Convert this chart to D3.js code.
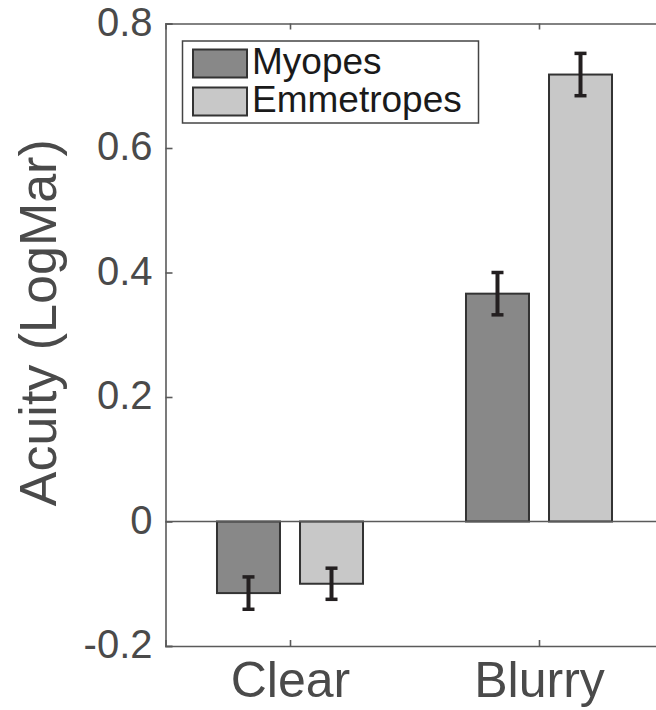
<!DOCTYPE html>
<html>
<head>
<meta charset="utf-8">
<title>Acuity bars</title>
<script src="https://d3js.org/d3.v7.min.js"></script>
<style>
body { margin: 0; background: #fff; }
svg { display: block; font-family: "Liberation Sans", Arial, Helvetica, sans-serif; }
.axis path, .axis line { stroke: #5a5a5a; stroke-width: 1.6; }
.axis text { fill: #4a4a4a; }
</style>
</head>
<body>
<script>
// data
const categories = ["Clear", "Blurry"];
const groups = ["Myopes", "Emmetropes"];
const myopes = [-0.115, 0.366];
const emmetropes = [-0.100, 0.718];
const myopesErr = [0.026, 0.034];
const emmetropesErr = [0.025, 0.034];
const yTicks = [-0.2, 0, 0.2, 0.4, 0.6, 0.8];
const colors = ["#888888", "#c8c8c8"];

const w = 656, h = 710;
const padLeft = 165.5, padTop = 23.5, padBottom = 646;

const svg = d3.select("body").append("svg")
  .attr("width", w)
  .attr("height", h);

// category index 1,2 like matlab, right edge is off the picture
const x = d3.scaleLinear().domain([0.5, 2.6]).range([padLeft, padLeft + 2.1 * 249]);
const y = d3.scaleLinear().domain([-0.2, 0.8]).range([padBottom, padTop]);

const offsets = [-0.1667, 0.1667];
const barW = 0.253;

const rows = [];
categories.forEach((c, i) => {
  rows.push({cat: i + 1, g: 0, v: myopes[i], e: myopesErr[i]});
  rows.push({cat: i + 1, g: 1, v: emmetropes[i], e: emmetropesErr[i]});
});

// bars
svg.append("g").selectAll("rect")
  .data(rows)
  .join("rect")
  .attr("x", d => x(d.cat + offsets[d.g] - barW / 2))
  .attr("width", d => x(barW) - x(0))
  .attr("y", d => y(Math.max(0, d.v)))
  .attr("height", d => Math.abs(y(d.v) - y(0)))
  .attr("fill", d => colors[d.g])
  .attr("stroke", "#333")
  .attr("stroke-width", 2);

// baseline at zero
svg.append("line")
  .attr("x1", x(0.5)).attr("x2", x(2.6))
  .attr("y1", y(0)).attr("y2", y(0))
  .attr("stroke", "#5a5a5a").attr("stroke-width", 1.6);

// error bars
const eb = svg.append("g").attr("stroke", "#231f20");
eb.selectAll("line.v")
  .data(rows).join("line").attr("class", "v")
  .attr("x1", d => x(d.cat + offsets[d.g])).attr("x2", d => x(d.cat + offsets[d.g]))
  .attr("y1", d => y(d.v - d.e)).attr("y2", d => y(d.v + d.e))
  .attr("stroke-width", 4);
eb.selectAll("line.c")
  .data(rows.flatMap(d => [{d: d, s: -1}, {d: d, s: 1}])).join("line").attr("class", "c")
  .attr("x1", k => x(k.d.cat + offsets[k.d.g]) - 6).attr("x2", k => x(k.d.cat + offsets[k.d.g]) + 6)
  .attr("y1", k => y(k.d.v + k.s * k.d.e)).attr("y2", k => y(k.d.v + k.s * k.d.e))
  .attr("stroke-width", 3.5);

// axes, matlab style inward ticks
svg.append("g")
  .attr("class", "axis")
  .attr("transform", "translate(" + padLeft + ",0)")
  .style("font-size", "40px")
  .call(d3.axisLeft(y).tickValues(yTicks).tickSize(-7).tickPadding(13)
    .tickFormat(d => d === 0 ? "0" : d.toFixed(1)))
  .selectAll("text").attr("dy", "0.29em");

svg.append("g")
  .attr("class", "axis")
  .attr("transform", "translate(0," + padBottom + ")")
  .style("font-size", "50px")
  .call(d3.axisBottom(x).tickValues([1, 2]).tickSize(-6).tickPadding(15)
    .tickFormat(d => categories[d - 1]));

svg.append("g")
  .attr("class", "axis")
  .attr("transform", "translate(0," + padTop + ")")
  .call(d3.axisTop(x).tickValues([1, 2]).tickSize(-6).tickFormat(""));

svg.selectAll(".axis .domain").attr("stroke", "#5a5a5a");

// y label
svg.append("text")
  .attr("transform", "translate(56," + (padTop + padBottom) / 2 + ") rotate(-90)")
  .attr("text-anchor", "middle")
  .attr("dx", 12)
  .style("font-size", "52px")
  .attr("fill", "#4a4a4a")
  .text("Acuity (LogMar)");

// legend
const lg = svg.append("g");
lg.append("rect")
  .attr("x", 182.5).attr("y", 41).attr("width", 296).attr("height", 82)
  .attr("fill", "#fff").attr("stroke", "#444").attr("stroke-width", 1.5);
groups.forEach((g, i) => {
  lg.append("rect")
    .attr("x", 193).attr("y", 49.5 + i * 38).attr("width", 54).attr("height", 28)
    .attr("fill", colors[i]).attr("stroke", "#333").attr("stroke-width", 2);
  lg.append("text")
    .attr("x", 252).attr("y", 73.5 + i * 38.5)
    .style("font-size", "37px")
    .attr("fill", "#1a1a1a")
    .text(g);
});
</script>
</body>
</html>
